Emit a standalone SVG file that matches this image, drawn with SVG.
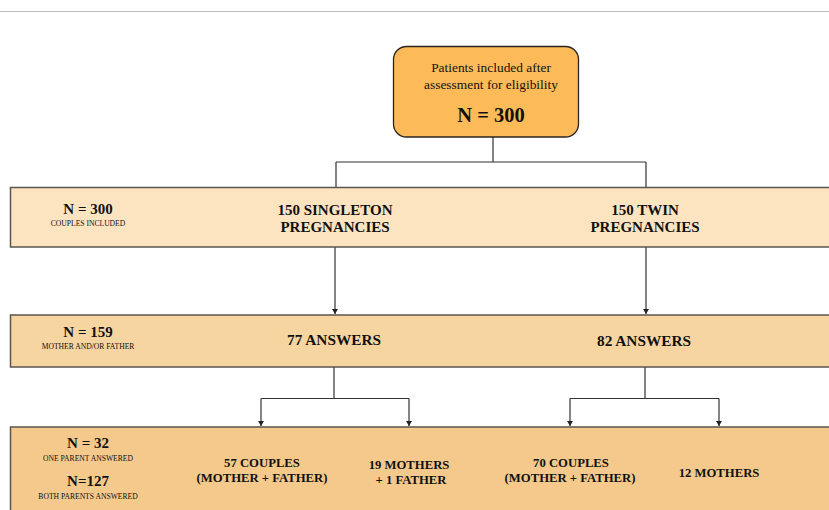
<svg xmlns="http://www.w3.org/2000/svg" width="829" height="510" viewBox="0 0 829 510">
<style>
  .t { font-family: "Liberation Serif", "Times New Roman", serif; fill: #111; text-anchor: middle; }
  .b { font-weight: bold; }
  .band { stroke: #5a5550; stroke-width: 1.5; }
  .conn { fill: none; stroke: #333; stroke-width: 1.2; }
</style>
<defs>
  <marker id="arr" viewBox="0 0 6 6" refX="3" refY="6" markerWidth="6" markerHeight="6" markerUnits="userSpaceOnUse" orient="auto-start-reverse">
    <path d="M0,0 L6,0 L3,6 Z" fill="#222" transform="rotate(-90 3 3)"/>
  </marker>
  <marker id="down" viewBox="0 0 6 5" refX="3" refY="5" markerWidth="6" markerHeight="5" markerUnits="userSpaceOnUse">
    <path d="M0,0 L6,0 L3,5 Z" fill="#222"/>
  </marker>
</defs>
<rect x="0" y="0" width="829" height="510" fill="#fff"/>
<line x1="0" y1="11.5" x2="829" y2="11.5" stroke="#bdbdbd" stroke-width="1.2"/>

<g id="connectors">
  <path class="conn" d="M493,137 V162 M336,162 H646 M336,162 V188 M646,162 V188"/>
  <path class="conn" d="M335,247 V314" marker-end="url(#down)"/>
  <path class="conn" d="M646,247 V314" marker-end="url(#down)"/>
  <path class="conn" d="M334,367 V398.5 M261,398.5 H409"/>
  <path class="conn" d="M261,398.5 V426" marker-end="url(#down)"/>
  <path class="conn" d="M409,398.5 V426" marker-end="url(#down)"/>
  <path class="conn" d="M645,367 V398.5 M570,398.5 H719"/>
  <path class="conn" d="M570,398.5 V426" marker-end="url(#down)"/>
  <path class="conn" d="M719,398.5 V426" marker-end="url(#down)"/>
</g>

<g id="top">
  <rect x="393.5" y="46.5" width="185" height="90.5" rx="13" fill="#FCBB58" stroke="#2b2520" stroke-width="1.3"/>
  <text class="t" x="491" y="72" font-size="13.4">Patients included after</text>
  <text class="t" x="491" y="88.5" font-size="13.4">assessment for eligibility</text>
  <text class="t b" x="491" y="122" font-size="20.5">N = 300</text>
</g>

<g id="band1">
  <rect class="band" x="10.5" y="187.5" width="830" height="59.5" fill="#FDE4C1"/>
  <text class="t b" x="88" y="214" font-size="15">N = 300</text>
  <text class="t" x="88" y="226" font-size="7.6">COUPLES INCLUDED</text>
  <text class="t b" x="335" y="215" font-size="15">150 SINGLETON</text>
  <text class="t b" x="335" y="232" font-size="15">PREGNANCIES</text>
  <text class="t b" x="645" y="215" font-size="15">150 TWIN</text>
  <text class="t b" x="645" y="232" font-size="15">PREGNANCIES</text>
</g>

<g id="band2">
  <rect class="band" x="10.5" y="315" width="830" height="52" fill="#F7D5A1"/>
  <text class="t b" x="88" y="337" font-size="15">N = 159</text>
  <text class="t" x="88" y="348.5" font-size="7.6">MOTHER AND/OR FATHER</text>
  <text class="t b" x="334" y="345" font-size="15.3">77 ANSWERS</text>
  <text class="t b" x="644" y="346" font-size="15.3">82 ANSWERS</text>
</g>

<g id="band3">
  <rect class="band" x="10.5" y="427" width="830" height="95" fill="#F4C98B"/>
  <text class="t b" x="88" y="448" font-size="15">N = 32</text>
  <text class="t" x="88" y="460.5" font-size="7.6">ONE PARENT ANSWERED</text>
  <text class="t b" x="88" y="486" font-size="15">N=127</text>
  <text class="t" x="88" y="499" font-size="7.6">BOTH PARENTS ANSWERED</text>
  <text class="t b" x="262" y="467" font-size="12.7">57 COUPLES</text>
  <text class="t b" x="262" y="482" font-size="12.7">(MOTHER + FATHER)</text>
  <text class="t b" x="409" y="468.5" font-size="12.7">19 MOTHERS</text>
  <text class="t b" x="411" y="483.5" font-size="12.7">+ 1 FATHER</text>
  <text class="t b" x="571" y="467" font-size="12.7">70 COUPLES</text>
  <text class="t b" x="570" y="482" font-size="12.7">(MOTHER + FATHER)</text>
  <text class="t b" x="719" y="477" font-size="12.7">12 MOTHERS</text>
</g>
</svg>
